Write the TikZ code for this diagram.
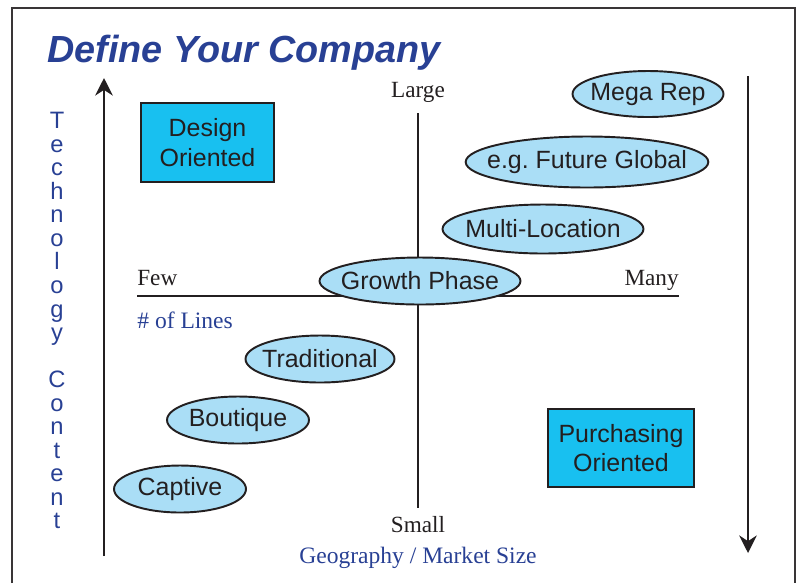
\documentclass[tikz,border=0pt]{standalone}
\usepackage{fontspec}
\setmainfont{Liberation Serif}
\setsansfont{Liberation Sans}
\usepackage{tikz}
\usetikzlibrary{arrows.meta,positioning,shapes.geometric}
\definecolor{inkblue}{RGB}{40,64,148}
\definecolor{pillblue}{RGB}{170,222,246}
\definecolor{boxcyan}{RGB}{24,192,240}
\definecolor{ink}{RGB}{35,31,32}

\begin{document}
\begin{tikzpicture}[
    x=0.02cm, y=-0.02cm,
    pill/.style={ellipse, draw=ink, line width=1.1pt, fill=pillblue, inner xsep=-8pt, inner ysep=0pt,
                 font=\sffamily\fontsize{14.2}{17}\selectfont, text=ink},
    zone/.style={rectangle, draw=ink, line width=1.2pt, fill=boxcyan, align=center, inner sep=0pt,
                 font=\sffamily\fontsize{14.2}{17}\selectfont, text=ink},
    axis/.style={draw=ink, line width=1.1pt},
    tag/.style={font=\fontsize{13.2}{15}\selectfont, text=ink, inner sep=0pt}
]
\useasboundingbox (0,0) rectangle (797,583);

% frame
\draw[draw=ink!90, line width=1pt] (12,583) -- (12,8) -- (795,8) -- (795,583);

% title
\node[anchor=base west, inner sep=0pt, text=inkblue, font=\sffamily\bfseries\itshape\fontsize{21.5}{24}\selectfont]
    (title) at (47,62) {Define Your Company};

% side arrows
\coordinate (techlo) at (104,556);
\coordinate (techhi) at (104,78);
\coordinate (buyhi) at (748,76);
\coordinate (buylo) at (748,553);
\draw[axis, -{Stealth[length=10pt,width=10pt]}] (techlo) -- (techhi);
\draw[axis, -{Stealth[length=10pt,width=10pt]}] (buyhi) -- (buylo);

\node[anchor=north, inner sep=0pt, align=center, text=inkblue, font=\sffamily\fontsize{13.5}{13.4}\selectfont]
    (techlabel) at (57,112) {T\\e\\c\\h\\n\\o\\l\\o\\g\\y\\[13.4pt]C\\o\\n\\t\\e\\n\\t};

% the two axes
\node[tag, anchor=base] (large) at (418,97) {Large};
\node[tag, anchor=base] (small) at (418,532) {Small};
\node[tag, anchor=base west] (few) at (137,285) {Few};
\node[tag, anchor=base east] (many) at (679,285) {Many};
\coordinate (vtop) at (418,113);
\coordinate (vbot) at (418,508);
\coordinate (hleft) at (137,296);
\coordinate (hright) at (679,296);
\draw[axis] (vtop) -- (vbot);
\draw[axis] (hleft) -- (hright);

\node[tag, anchor=base west, text=inkblue, font=\fontsize{13.4}{15}\selectfont] (lines) at (137,328) {\# of Lines};
\node[tag, anchor=base, text=inkblue, font=\fontsize{13.4}{15}\selectfont] (geo) at (418,563) {Geography / Market Size};

% corner boxes
\node[zone, minimum width=2.66cm, minimum height=1.58cm] (design) at (207.5,142.5) {Design\\Oriented};
\node[zone, minimum width=2.92cm, minimum height=1.56cm] (purchase) at (621,448) {Purchasing\\Oriented};

% company types
\node[pill, minimum width=3.02cm, minimum height=0.92cm] (mega) at (648,94) {Mega Rep};
\node[pill, minimum width=4.8cm, minimum height=1.02cm] (future) at (587,162) {e.g.\ Future Global};
\node[pill, minimum width=4.02cm, minimum height=0.98cm] (multi) at (543,229) {Multi-Location};
\node[pill, minimum width=4.02cm, minimum height=0.94cm] (growth) at (420,281) {Growth Phase};
\node[pill, minimum width=2.98cm, minimum height=0.94cm] (trad) at (320,359) {Traditional};
\node[pill, minimum width=2.84cm, minimum height=0.94cm] (boutique) at (238,420) {Boutique};
\node[pill, minimum width=2.64cm, minimum height=0.94cm] (captive) at (180,489) {Captive};

\end{tikzpicture}
\end{document}
